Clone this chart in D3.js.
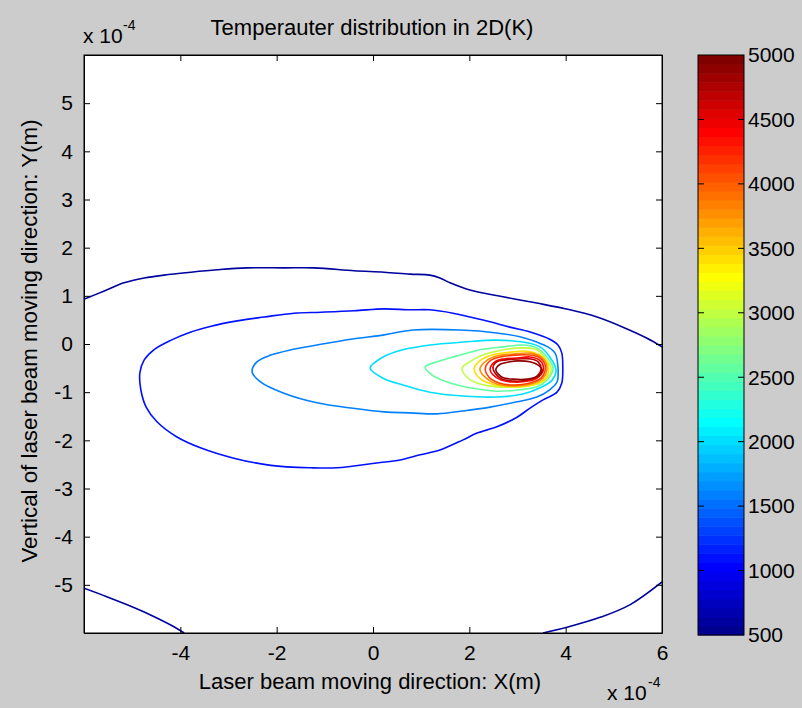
<!DOCTYPE html>
<html>
<head>
<meta charset="utf-8">
<script src="https://cdn.jsdelivr.net/npm/d3@7"></script>
<style>
  body { margin: 0; background: #cccccc; }
  text { font-family: "Liberation Sans", Arial, sans-serif; fill: #000; }
</style>
</head>
<body>
<svg id="chart"></svg>
<script>
// tick values (x and y in units of 1e-4 m)
const xTicks = [-4, -2, 0, 2, 4, 6];
const yTicks = [-5, -4, -3, -2, -1, 0, 1, 2, 3, 4, 5];
const cbTicks = [500, 1000, 1500, 2000, 2500, 3000, 3500, 4000, 4500, 5000];

// contour lines, [x, y] in 1e-4 m
const navyTop = [[-6.0,0.93],[-5.58,1.10],[-5.17,1.27],[-4.75,1.37],[-4.34,1.43],[-3.78,1.49],[-3.24,1.54],[-2.62,1.58],[-1.85,1.58],[-1.22,1.58],[-0.39,1.52],[0.23,1.49],[0.77,1.45],[1.18,1.43],[1.39,1.37],[1.60,1.27],[2.01,1.12],[2.70,0.98],[3.40,0.85],[4.09,0.71],[4.65,0.56],[5.19,0.35],[5.69,0.12],[6.0,-0.06]];
const navyBottomLeft = [[-6.0,-5.07],[-5.54,-5.24],[-5.09,-5.42],[-4.63,-5.62],[-4.17,-5.85],[-3.92,-6.0]];
const navyBottomRight = [[3.53,-6.0],[4.03,-5.88],[4.73,-5.67],[5.34,-5.41],[6.0,-4.94]];
const blueRing = [[0.23,0.73],[-0.39,0.69],[-1.08,0.66],[-1.64,0.64],[-2.26,0.56],[-2.82,0.48],[-3.36,0.37],[-3.78,0.25],[-4.19,0.08],[-4.55,-0.12],[-4.75,-0.33],[-4.84,-0.60],[-4.82,-0.95],[-4.71,-1.31],[-4.48,-1.62],[-4.07,-1.93],[-3.57,-2.16],[-2.89,-2.37],[-2.12,-2.52],[-1.29,-2.57],[-0.75,-2.57],[0.08,-2.47],[0.56,-2.41],[0.98,-2.30],[1.39,-2.20],[1.87,-1.99],[2.16,-1.85],[2.57,-1.72],[2.99,-1.52],[3.26,-1.33],[3.53,-1.16],[3.82,-1.00],[3.92,-0.81],[3.94,-0.54],[3.92,-0.19],[3.84,-0.02],[3.67,0.10],[3.26,0.25],[2.84,0.35],[2.43,0.46],[2.01,0.56],[1.66,0.64],[1.18,0.71],[0.77,0.71]];
const azureRing = [[-2.51,-0.58],[-2.41,-0.37],[-2.12,-0.23],[-1.70,-0.12],[-1.16,-0.02],[-0.46,0.10],[0.23,0.19],[0.83,0.29],[1.81,0.29],[2.57,0.23],[3.05,0.15],[3.40,0.04],[3.63,-0.06],[3.78,-0.19],[3.84,-0.48],[3.82,-0.79],[3.67,-0.95],[3.40,-1.10],[2.99,-1.20],[2.43,-1.31],[1.87,-1.39],[1.33,-1.45],[0.77,-1.43],[0.23,-1.41],[-0.46,-1.33],[-1.16,-1.22],[-1.85,-1.02],[-2.33,-0.79]];
const cyanRing = [[-0.06,-0.50],[0.21,-0.27],[0.62,-0.12],[1.18,-0.02],[1.87,0.04],[2.57,0.08],[3.11,0.04],[3.47,-0.06],[3.67,-0.27],[3.80,-0.54],[3.72,-0.75],[3.47,-0.91],[3.11,-1.04],[2.57,-1.10],[1.87,-1.08],[1.18,-1.00],[0.62,-0.85],[0.21,-0.71]];
const greenRing = [[1.08,-0.48],[1.33,-0.37],[1.74,-0.25],[2.22,-0.12],[2.70,-0.06],[3.11,-0.02],[3.40,-0.08],[3.61,-0.27],[3.74,-0.50],[3.61,-0.75],[3.40,-0.89],[3.05,-0.95],[2.57,-0.98],[2.01,-0.91],[1.54,-0.79],[1.22,-0.64]];
const limeRing = [[1.85,-0.50],[2.01,-0.37],[2.28,-0.23],[2.70,-0.12],[3.11,-0.08],[3.40,-0.12],[3.57,-0.29],[3.70,-0.52],[3.57,-0.75],[3.32,-0.85],[2.99,-0.89],[2.57,-0.89],[2.16,-0.81],[1.95,-0.69]];
const yellowRing = [[2.10,-0.52],[2.22,-0.35],[2.47,-0.23],[2.84,-0.17],[3.22,-0.15],[3.47,-0.23],[3.61,-0.37],[3.65,-0.54],[3.57,-0.73],[3.32,-0.85],[2.95,-0.89],[2.53,-0.85],[2.24,-0.73]];
const orangeRing = [[2.22,-0.52],[2.35,-0.35],[2.57,-0.25],[2.91,-0.21],[3.26,-0.19],[3.49,-0.27],[3.59,-0.39],[3.61,-0.54],[3.53,-0.71],[3.28,-0.83],[2.93,-0.87],[2.57,-0.83],[2.35,-0.71]];
const redOrangeRing = [[2.33,-0.52],[2.43,-0.35],[2.64,-0.27],[2.95,-0.23],[3.26,-0.23],[3.47,-0.29],[3.57,-0.42],[3.57,-0.56],[3.49,-0.71],[3.26,-0.81],[2.93,-0.85],[2.62,-0.81],[2.41,-0.69]];
const redRing = [[2.43,-0.52],[2.53,-0.37],[2.72,-0.31],[2.99,-0.29],[3.26,-0.27],[3.45,-0.33],[3.53,-0.44],[3.53,-0.56],[3.43,-0.69],[3.22,-0.77],[2.91,-0.79],[2.66,-0.75],[2.49,-0.64]];
const darkRedRing = [[2.49,-0.50],[2.57,-0.37],[2.76,-0.33],[3.03,-0.31],[3.28,-0.31],[3.43,-0.37],[3.49,-0.52],[3.41,-0.66],[3.20,-0.75],[2.91,-0.77],[2.64,-0.71]];
const brownRing = [[2.55,-0.54],[2.64,-0.42],[2.84,-0.37],[3.01,-0.35],[3.26,-0.37],[3.43,-0.44],[3.51,-0.54],[3.43,-0.66],[3.20,-0.73],[2.91,-0.73],[2.68,-0.69]];

// level (K) of each line
const contourLines = [
  { level: 600,  closed: false, pts: navyTop },
  { level: 600,  closed: false, pts: navyBottomLeft },
  { level: 600,  closed: false, pts: navyBottomRight },
  { level: 1100, closed: true,  pts: blueRing },
  { level: 1600, closed: true,  pts: azureRing },
  { level: 2000, closed: true,  pts: cyanRing },
  { level: 2600, closed: true,  pts: greenRing },
  { level: 3000, closed: true,  pts: limeRing },
  { level: 3400, closed: true,  pts: yellowRing },
  { level: 3800, closed: true,  pts: orangeRing },
  { level: 4100, closed: true,  pts: redOrangeRing },
  { level: 4400, closed: true,  pts: redRing },
  { level: 4650, closed: true,  pts: darkRedRing },
  { level: 4900, closed: true,  pts: brownRing }
];

const W = 802, H = 708;
const cMin = 500, cMax = 5000;

//jet(64) as matlab builds it
function jet64() {
  const n = 16, u = [];
  for (let i = 1; i <= n; i++) u.push(i / n);
  for (let i = 0; i < n - 1; i++) u.push(1);
  for (let i = n; i >= 1; i--) u.push(i / n);
  const cols = d3.range(64).map(() => [0, 0, 0]);
  u.forEach((v, k) => {
    const g = 8 + k, r = g + n, b = g - n;
    if (r < 64) cols[r][0] = v;
    if (g < 64) cols[g][1] = v;
    if (b >= 0 && b < 64) cols[b][2] = v;
  });
  return cols.map(c => d3.rgb(c[0] * 255, c[1] * 255, c[2] * 255).formatHex());
}
const cmap = jet64();
function levelColor(v) {
  const i = Math.max(0, Math.min(63, Math.floor((v - cMin) / (cMax - cMin) * 64)));
  return cmap[i];
}

const svg = d3.select("#chart").attr("width", W).attr("height", H);
svg.append("rect").attr("width", W).attr("height", H).attr("fill", "#cccccc");

const x = d3.scaleLinear().domain([-6, 6]).range([84, 662]);
const y = d3.scaleLinear().domain([-6, 6]).range([633, 55]);

svg.append("clipPath").attr("id", "plotClip")
  .append("rect").attr("x", 84).attr("y", 55).attr("width", 578).attr("height", 578);

svg.append("rect").attr("x", 84).attr("y", 55).attr("width", 578).attr("height", 578).attr("fill", "#fff");

//Linee di livello
const lineOpen = d3.line().x(d => x(d[0])).y(d => y(d[1])).curve(d3.curveCatmullRom.alpha(0.5));
const lineClosed = d3.line().x(d => x(d[0])).y(d => y(d[1])).curve(d3.curveCatmullRomClosed.alpha(0.5));

svg.append("g").attr("clip-path", "url(#plotClip)")
  .selectAll("path")
  .data(contourLines)
  .join("path")
  .attr("d", d => (d.closed ? lineClosed : lineOpen)(d.pts))
  .attr("fill", "none")
  .attr("stroke", d => levelColor(d.level))
  .attr("stroke-width", 1.6)
  .attr("stroke-linejoin", "round");

//Assi
const fmt = d => String(d);
function styleAxis(g) {
  g.selectAll("line").attr("stroke", "#000");
  g.selectAll("path").attr("stroke", "#000");
  g.selectAll("text").attr("font-family", "'Liberation Sans', Arial, sans-serif")
    .attr("font-size", "21px").attr("fill", "#000");
}
svg.append("g").attr("transform", "translate(0,633)")
  .call(d3.axisBottom(x).tickValues(xTicks).tickFormat(fmt).tickSizeInner(-6).tickSizeOuter(0).tickPadding(12))
  .call(styleAxis);
svg.append("g").attr("transform", "translate(0,55)")
  .call(d3.axisTop(x).tickValues(xTicks).tickFormat("").tickSizeInner(-6).tickSizeOuter(0))
  .call(styleAxis);
svg.append("g").attr("transform", "translate(84,0)")
  .call(d3.axisLeft(y).tickValues(yTicks).tickFormat(fmt).tickSizeInner(-6).tickSizeOuter(0).tickPadding(11))
  .call(styleAxis);
svg.append("g").attr("transform", "translate(662,0)")
  .call(d3.axisRight(y).tickValues(yTicks).tickFormat("").tickSizeInner(-6).tickSizeOuter(0))
  .call(styleAxis);

svg.append("rect").attr("x", 84).attr("y", 55).attr("width", 578).attr("height", 578)
  .attr("fill", "none").attr("stroke", "#000").attr("stroke-width", 1);

// exponent labels
svg.append("text").attr("x", 83).attr("y", 43).attr("font-size", "21px").text("x 10");
svg.append("text").attr("x", 123).attr("y", 30).attr("font-size", "14px").text("-4");
svg.append("text").attr("x", 607).attr("y", 700).attr("font-size", "21px").text("x 10");
svg.append("text").attr("x", 648).attr("y", 687).attr("font-size", "14px").text("-4");

svg.append("text").attr("x", 372).attr("y", 35).attr("text-anchor", "middle")
  .attr("font-size", "22px").text("Temperauter distribution in 2D(K)");
svg.append("text").attr("x", 370).attr("y", 689).attr("text-anchor", "middle")
  .attr("font-size", "22px").text("Laser beam moving direction: X(m)");
svg.append("text").attr("transform", "translate(37,341) rotate(-90)").attr("text-anchor", "middle")
  .attr("font-size", "22.3px").text("Vertical of laser beam moving direction: Y(m)");

//Colorbar
const cb = d3.scaleLinear().domain([cMin, cMax]).range([635, 55]);
const cbX0 = 698, cbX1 = 744;
const step = (cMax - cMin) / 64;
svg.append("g").selectAll("rect")
  .data(cmap)
  .join("rect")
  .attr("x", cbX0)
  .attr("y", (d, i) => cb(cMin + (i + 1) * step))
  .attr("width", cbX1 - cbX0)
  .attr("height", (d, i) => cb(cMin + i * step) - cb(cMin + (i + 1) * step) + 0.5)
  .attr("fill", d => d);

const cbTickG = svg.append("g");
cbTickG.selectAll("line.l")
  .data(cbTicks.slice(1, -1))
  .join("line").attr("class", "l")
  .attr("x1", cbX0).attr("x2", cbX0 + 6)
  .attr("y1", d => cb(d)).attr("y2", d => cb(d)).attr("stroke", "#000");
cbTickG.selectAll("line.r")
  .data(cbTicks.slice(1, -1))
  .join("line").attr("class", "r")
  .attr("x1", cbX1 - 6).attr("x2", cbX1)
  .attr("y1", d => cb(d)).attr("y2", d => cb(d)).attr("stroke", "#000");
cbTickG.selectAll("text")
  .data(cbTicks)
  .join("text")
  .attr("x", cbX1 + 4)
  .attr("y", d => cb(d))
  .attr("dy", "0.35em")
  .attr("font-size", "21px")
  .text(d => d);
svg.append("rect").attr("x", cbX0).attr("y", 55).attr("width", cbX1 - cbX0).attr("height", 580)
  .attr("fill", "none").attr("stroke", "#000").attr("stroke-width", 1);
</script>
</body>
</html>
